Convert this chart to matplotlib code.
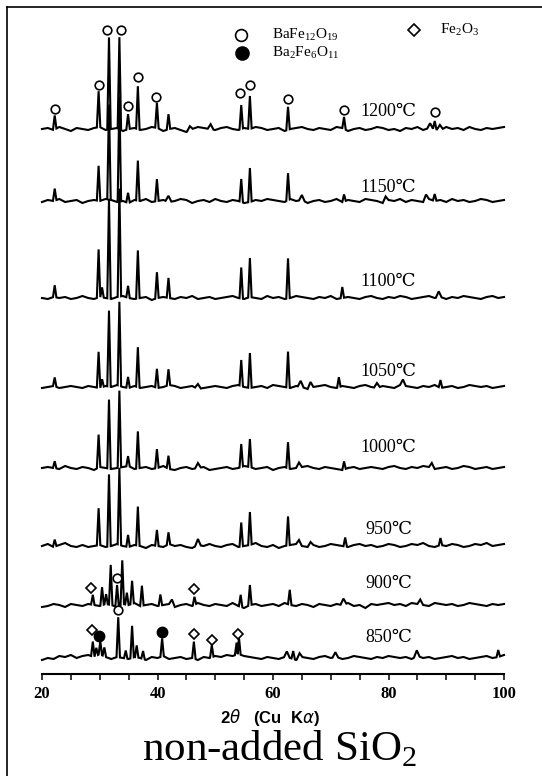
import numpy as np
import matplotlib
matplotlib.use("Agg")
import matplotlib.pyplot as plt
from matplotlib.lines import Line2D

# ---------------- data (intensity in arbitrary units) ----------------
temps = ["1200℃", "1150℃", "1100℃", "1050℃", "1000℃", "950℃", "900℃", "850℃"]
offsets = [545, 473, 376, 287, 206, 128, 69, 16]

pos_1200 = [22.2, 29.8, 31.6, 33.4, 34.9, 36.6, 39.9, 41.9, 45.6, 49.2, 54.5, 56.0, 62.6, 72.3, 87.2, 88.0, 88.9]
h_1200 = [14, 36, 92, 92, 15, 43, 25, 15, 4, 5, 24, 33, 23, 12, 5, 8, 5]

pos_1150 = [22.2, 29.8, 31.6, 33.4, 34.9, 36.6, 39.9, 41.9, 54.5, 56.0, 62.6, 65.0, 72.3, 79.5, 86.5, 88.0]
h_1150 = [12, 35, 95, 105, 10, 40, 22, 6, 23, 34, 27, 5, 7, 5, 6, 7]

pos_1100 = [22.2, 29.8, 30.4, 31.6, 33.4, 34.9, 36.6, 39.9, 41.9, 54.5, 56.0, 62.6, 72.0, 88.7]
h_1100 = [12, 48, 10, 100, 108, 12, 48, 26, 20, 31, 39, 40, 11, 6]

pos_1050 = [22.2, 29.8, 30.4, 31.6, 33.4, 34.9, 36.6, 39.9, 41.9, 47.0, 54.5, 56.0, 62.6, 64.8, 66.5, 71.4, 78.0, 82.5, 89.0]
h_1050 = [9, 36, 8, 76, 84, 11, 40, 19, 16, 5, 26, 35, 36, 6, 6, 10, 5, 6, 8]

pos_1000 = [22.2, 29.8, 31.6, 33.4, 34.9, 36.6, 39.9, 41.9, 47.0, 54.5, 56.0, 62.6, 64.5, 72.3, 87.5]
h_1000 = [7, 33, 69, 77, 10, 37, 19, 13, 5, 23, 28, 26, 5, 8, 5]

pos_950 = [22.2, 29.8, 31.6, 33.4, 34.9, 36.6, 39.9, 41.9, 47.0, 54.5, 56.0, 62.6, 64.5, 66.5, 72.5, 89.0]
h_950 = [7, 37, 72, 77, 12, 39, 16, 12, 6, 24, 33, 29, 5, 4, 9, 7]

pos_900 = [28.8, 30.4, 31.1, 31.9, 33.0, 33.9, 34.7, 35.6, 37.3, 40.5, 42.5, 46.4, 54.4, 56.0, 62.9, 72.2, 85.5]
h_900 = [10, 18, 10, 40, 22, 44, 12, 23, 20, 11, 6, 8, 12, 20, 15, 6, 5]

pos_850 = [28.8, 29.4, 30.1, 30.8, 33.2, 34.5, 35.6, 36.4, 37.5, 40.8, 46.3, 49.4, 53.7, 54.1, 62.4, 63.5, 64.6, 70.8, 84.9, 99.0]
h_850 = [15, 8, 13, 9, 40, 8, 32, 12, 8, 18, 17, 12, 12, 17, 6, 8, 5, 5, 6, 7]

# baseline wiggle, one value per degree from 20 to 100
n1200 = [0,1,-1,2,0,-2,1,0,-1,1, 2,-1,0,1,-2,0,1,-1,0,2, 1,-2,0,1,-1,-3,0,2,1,0, -1,1,2,0,-1,1,0,2,1,-1, 0,1,-2,0,1,2,0,-1,1,0, -1,2,1,-2,0,1,-1,0,2,1, -1,0,-2,1,0,2,-1,1,0,-1, 2,0,1,-1,2,0,-1,1,0,1, 2]
n1150 = [-1,1,0,2,-1,0,1,-2,0,1, 0,2,1,-1,0,-2,1,0,2,-1, 0,1,-1,0,2,1,-2,0,1,-1, 2,0,-1,1,0,-2,-1,1,0,2, 1,0,-1,2,0,1,-2,0,1,-1, 0,2,-1,1,0,-1,2,1,0,-2, 1,0,2,-1,1,0,-1,2,0,1, -1,2,0,1,-1,0,2,1,-1,0, 1]
n1100 = [0,-1,1,0,1,-1,0,2,0,-1, 1,0,-1,1,2,0,-1,0,1,-2, 0,1,0,-1,1,0,2,-1,0,1, -1,0,1,2,0,-1,1,0,-1,2, 0,1,-1,0,2,1,0,-1,1,0, 2,-1,0,1,0,-1,1,2,0,-1, 1,0,2,1,-1,0,1,2,0,1, -1,1,0,2,1,0,-1,1,2,0, 1]
n1050 = [-1,0,1,-1,0,1,0,-1,1,0, -1,1,0,2,0,-1,1,-1,0,1, -1,0,2,1,-1,0,1,-2,-1,0, 1,0,-1,1,2,0,-1,0,1,-1, 2,1,0,-1,1,0,-2,0,1,2, 0,-1,1,0,-1,1,2,0,-1,1, 0,-1,2,1,0,-1,1,0,2,-1, 0,1,-1,0,2,1,0,1,-1,0, 1]
n1000 = [0,1,0,-1,2,0,-1,1,0,-2, 1,0,-1,0,1,2,-1,0,1,-1, 0,2,-1,-2,0,1,-1,0,1,-2, -1,0,1,-1,0,2,1,-1,0,1, -2,0,1,-1,0,1,2,0,-1,1, 0,-1,-2,0,1,-1,0,1,0,-1, 1,2,0,-1,1,0,2,1,-1,0, 1,-1,0,2,1,-1,0,1,-1,0, 1]
n950 = [0,2,-1,1,3,0,-1,1,-1,0, 1,-1,0,2,0,-1,1,0,-2,1, 0,-1,2,0,1,-1,-2,1,0,2, 0,-1,1,2,-1,0,1,3,0,-1, 1,-2,0,1,2,0,-1,1,-1,0, 2,1,0,-1,1,2,0,1,-1,0, 2,1,-1,0,2,1,3,0,-1,1, 0,2,1,-1,0,2,1,3,0,1, 2]
n900 = [-2,-1,1,0,-2,1,0,-1,1,0, -1,1,0,-2,1,0,2,-1,0,1, -1,0,1,-2,0,1,-1,2,0,-1, 1,0,-1,2,-1,-3,0,1,-1,0, 1,-1,2,0,-1,1,0,-2,1,0, -1,1,0,2,-1,0,-3,1,0,1, 2,0,1,-1,2,1,0,-1,2,1, 0,1,-1,0,2,1,0,-1,1,0, 1]
n850 = [-2,0,-1,2,1,3,0,2,3,1, 4,1,-1,1,0,-1,1,0,-2,1, 0,2,-1,0,1,-1,0,-2,1,0, 2,1,3,2,4,2,1,0,-1,1, 0,-1,1,0,-2,1,0,-1,1,2, 0,1,-1,0,2,1,0,-1,1,0, 2,1,0,1,-1,2,0,1,-1,0, 1,2,0,1,-1,0,1,2,0,1, 3]

# phase markers (2theta, absolute intensity)
bam_x = [22.2, 29.8, 31.3, 33.7, 34.9, 36.6, 39.8, 54.2, 56.0, 62.6, 72.3, 88.0, 33.0, 33.2]
bam_y = [565, 589, 644, 644, 568, 597, 577, 581, 589, 575, 564, 562, 96, 64]
fe2o3_x = [28.5, 46.4, 28.6, 46.3, 49.5, 54.0]
fe2o3_y = [86, 85, 44, 40, 34, 40]
ba2_x = [29.8, 40.7]
ba2_y = [38, 42]

patterns = [
    (pos_1200, h_1200, n1200), (pos_1150, h_1150, n1150), (pos_1100, h_1100, n1100),
    (pos_1050, h_1050, n1050), (pos_1000, h_1000, n1000), (pos_950, h_950, n950),
    (pos_900, h_900, n900), (pos_850, h_850, n850),
]

# ---------------- drawing ----------------
W, H = 542, 776
fig = plt.figure(figsize=(W / 100, H / 100), dpi=100)
ax = fig.add_axes([42 / W, 1 - 674 / H, 462 / W, 667 / H])
ax.set_xlim(20, 100)
ax.set_ylim(0, 667)

serif = ["Liberation Serif", "DejaVu Serif"]


def build_trace(pos, hts, noise, base):
    nx = np.arange(20, 101, dtype=float)
    nz = np.asarray(noise, float)
    order = np.argsort(pos)
    P = np.asarray(pos, float)[order]
    Hh = np.asarray(hts, float)[order]
    wd = np.where(Hh > 6, 0.3, 0.5)
    left = P - wd
    right = P + wd
    for i in range(len(P) - 1):
        if right[i] > left[i + 1]:
            m = 0.5 * (P[i] + P[i + 1])
            right[i] = m
            left[i + 1] = m
    left = np.clip(left, 20, 100)
    right = np.clip(right, 20, 100)
    keep = np.ones(len(nx), bool)
    for l, r in zip(left, right):
        keep &= ~((nx >= l) & (nx <= r))
    xs = list(nx[keep])
    ys = list(nz[keep])
    for l, p, r, h in zip(left, P, right, Hh):
        xs += [l, p, r]
        ys += [np.interp(l, nx, nz), np.interp(p, nx, nz) + h, np.interp(r, nx, nz)]
    X = np.array(xs)
    Y = np.array(ys)
    o = np.argsort(X, kind="stable")
    return X[o], Y[o] + base


for (pos, hts, noise), off in zip(patterns, offsets):
    X, Y = build_trace(pos, hts, noise, off)
    ax.plot(X, Y, color="black", lw=1.5, solid_joinstyle="miter", clip_on=False)

# markers
ax.plot(bam_x, bam_y, ls="none", marker="o", ms=6.2, mfc="white", mec="black", mew=1.2, clip_on=False, zorder=5)
ax.plot(fe2o3_x, fe2o3_y, ls="none", marker="D", ms=5.0, mfc="white", mec="black", mew=1.2, clip_on=False, zorder=5)
ax.plot(ba2_x, ba2_y, ls="none", marker="o", ms=7.5, mfc="black", mec="black", clip_on=False, zorder=5)

# temperature labels
label_y = [563, 487, 393, 303, 226, 144, 91, 37]
for t, ly in zip(temps, label_y):
    ax.text(80.0, ly, t, ha="center", va="center", fontsize=13, family=serif)

# axis styling
for s in ["left", "right", "top"]:
    ax.spines[s].set_visible(False)
ax.spines["bottom"].set_linewidth(1.5)
ax.set_yticks([])
ax.set_xticks([20, 40, 60, 80, 100])
ax.set_xticks(np.arange(20, 101, 5), minor=True)
ax.set_xticklabels(["20", "40", "60", "80", "100"], fontsize=12, fontweight="bold", family=serif)
ax.tick_params(axis="x", which="both", direction="out", length=4, width=1.1, pad=5)

# legend (figure pixel coordinates)
def fx(x):
    return x / W


def fy(y):
    return 1 - y / H


fig.add_artist(Line2D([fx(241)], [fy(35)], marker="o", ms=8.5, mfc="white", mec="black", mew=1.2, ls="none"))
fig.add_artist(Line2D([fx(242)], [fy(53)], marker="o", ms=9.5, mfc="black", mec="black", ls="none"))
fig.add_artist(Line2D([fx(414)], [fy(30)], marker="D", ms=6.5, mfc="white", mec="black", mew=1.2, ls="none"))
fig.text(fx(272), fy(35), r"BaFe$_{\mathregular{12}}$O$_{\mathregular{19}}$", fontsize=11, family=serif, va="center", ha="left")
fig.text(fx(272), fy(53), r"Ba$_{\mathregular{2}}$Fe$_{\mathregular{6}}$O$_{\mathregular{11}}$", fontsize=11, family=serif, va="center", ha="left")
fig.text(fx(440), fy(30), r"Fe$_{\mathregular{2}}$O$_{\mathregular{3}}$", fontsize=11, family=serif, va="center", ha="left")

# axis title and caption
fig.text(fx(270), fy(718), r"2$\mathit{\theta}$   (Cu  K$\mathit{\alpha}$)", fontsize=12, fontweight="bold",
         family=["Liberation Sans", "DejaVu Sans"], ha="center", va="center")
fig.text(fx(280), fy(749), r"non-added SiO$_{\mathregular{2}}$", fontsize=31, family=serif, ha="center", va="center")

# frame lines
fig.add_artist(Line2D([fx(7), fx(7)], [fy(7), 0], color="black", lw=1.2))
fig.add_artist(Line2D([fx(7), 1], [fy(7), fy(7)], color="black", lw=1.2))

fig.savefig("out.png", dpi=100)
